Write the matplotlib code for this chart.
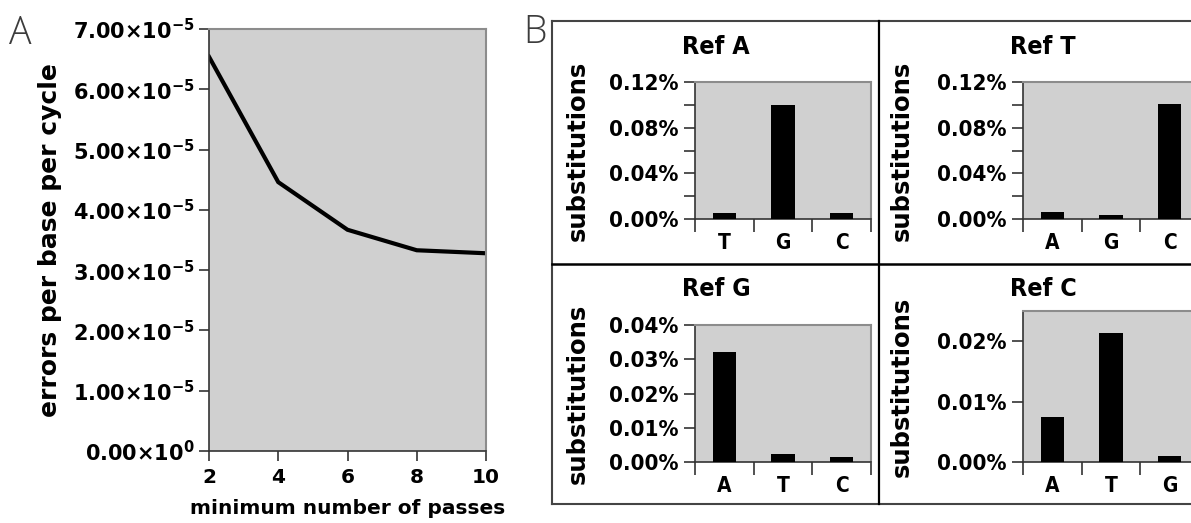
import numpy as np
import matplotlib.pyplot as plt
from matplotlib.ticker import FixedLocator, FuncFormatter
from matplotlib.lines import Line2D
from matplotlib import font_manager as fm

# ----------------------------------------------------------------
#  DATA
# ----------------------------------------------------------------
passes = [2, 4, 6, 8, 10]
errors = [6.54e-5, 4.46e-5, 3.67e-5, 3.33e-5, 3.28e-5]

titles = ['Ref A', 'Ref T', 'Ref G', 'Ref C']
bases_A = ['T', 'G', 'C']
bases_T = ['A', 'G', 'C']
bases_G = ['A', 'T', 'C']
bases_C = ['A', 'T', 'G']
subs_A = [0.0055, 0.0995, 0.0055]     # percent
subs_T = [0.0064, 0.0035, 0.1005]
subs_G = [0.0320, 0.0023, 0.0015]
subs_C = [0.0074, 0.0213, 0.0010]
ymax = [0.12, 0.12, 0.04, 0.025]
yticks_major = [[0, 0.04, 0.08, 0.12], [0, 0.04, 0.08, 0.12],
                [0, 0.01, 0.02, 0.03, 0.04], [0, 0.01, 0.02]]
yticks_minor = [[0.02, 0.06, 0.10], [0.02, 0.06, 0.10], [], []]

# ----------------------------------------------------------------
#  STYLE
# ----------------------------------------------------------------
W, H = 1191, 523
BG = '#d0d0d0'
plt.rcParams['font.family'] = 'DejaVu Sans'
plt.rcParams['font.weight'] = 'bold'
plt.rcParams['mathtext.default'] = 'bf'

# panel B text looks like a condensed bold face
cond = fm.FontProperties(family='DejaVu Sans', weight='bold', stretch='condensed')

fig = plt.figure(figsize=(W / 100, H / 100), dpi=100)


def px_axes(left, top, right, bottom):
    return fig.add_axes([left / W, 1 - bottom / H, (right - left) / W, (bottom - top) / H])


def style_spines(ax):
    ax.set_facecolor(BG)
    for s in ('left', 'bottom'):
        ax.spines[s].set_color('#333333')
        ax.spines[s].set_linewidth(1.2)
    for s in ('top', 'right'):
        ax.spines[s].set_color('#8c8c8c')
        ax.spines[s].set_linewidth(1.5)


# ----------------------------------------------------------------
#  PANEL A
# ----------------------------------------------------------------
axA = px_axes(209, 29, 486, 451)
style_spines(axA)
axA.plot(passes, errors, color='black', lw=3, solid_joinstyle='miter')
axA.set_xlim(2, 10)
axA.set_ylim(0, 7e-5)
axA.set_xticks(passes)
axA.set_yticks(np.arange(0, 7.01e-5, 1e-5))


def sci(v, pos):
    if v == 0:
        return r'$0.00{\times}10^{0}$'
    e = int(np.floor(np.log10(abs(v))))
    return r'$%.2f{\times}10^{%d}$' % (v / 10 ** e, e)


axA.yaxis.set_major_formatter(FuncFormatter(sci))
axA.tick_params(axis='both', direction='out', length=7, width=1.2, color='#333333')
axA.tick_params(axis='y', labelsize=15, pad=3)
axA.tick_params(axis='x', labelsize=14.5, pad=5)
axA.set_xlabel('minimum number of passes', fontsize=14.5, fontweight='bold', labelpad=9)
axA.set_ylabel('errors per base per cycle', fontsize=18, fontweight='bold', labelpad=8)

# ----------------------------------------------------------------
#  PANEL B
# ----------------------------------------------------------------
boxes = [(695, 82, 871, 219), (1023, 82, 1199, 219),
         (695, 325, 871, 462), (1023, 311, 1199, 462)]
title_base = [54, 54, 296, 296]
title_cx = [716, 1043, 716, 1043]     # titles centred on the grid cell
label_x = [-0.60, -0.62, -0.60, -0.62]
all_bases = [bases_A, bases_T, bases_G, bases_C]
all_subs = [subs_A, subs_T, subs_G, subs_C]

for i in range(4):
    ax = px_axes(*boxes[i])
    style_spines(ax)
    x = np.arange(len(all_bases[i]))
    ax.bar(x, all_subs[i], width=0.4, color='black', zorder=3)
    ax.set_xlim(-0.5, 2.5)
    ax.set_ylim(0, ymax[i])
    ax.set_xticks(x)
    ax.set_xticklabels(all_bases[i], fontproperties=cond, fontsize=15)
    ax.xaxis.set_minor_locator(FixedLocator([-0.5, 0.5, 1.5, 2.5]))
    ax.tick_params(axis='x', which='major', length=0, pad=10)
    ax.tick_params(axis='x', which='minor', length=9, width=1.2, color='#333333', direction='out')
    ax.set_yticks(yticks_major[i])
    ax.set_yticks(yticks_minor[i], minor=True)
    ax.set_yticklabels(['%.2f%%' % v for v in yticks_major[i]], fontproperties=cond, fontsize=16)
    ax.tick_params(axis='y', which='both', length=8, width=1.2, color='#333333',
                   direction='out', pad=4)
    left, top, right, _ = boxes[i]
    ax.set_title(titles[i], fontproperties=cond, fontsize=18,
                 x=(title_cx[i] - left) / (right - left), ha='center',
                 pad=(top - title_base[i]) * 0.72)
    ax.set_ylabel('substitutions', fontsize=17.5, fontweight='bold')
    ax.yaxis.set_label_coords(label_x[i], 0.5)

# frame around panel B
frame = dict(transform=fig.transFigure)
fig.add_artist(Line2D([552 / W, 1], [1 - 21 / H] * 2, color='#444444', lw=1.5, **frame))
fig.add_artist(Line2D([552 / W, 1], [1 - 504 / H] * 2, color='#444444', lw=1.5, **frame))
fig.add_artist(Line2D([552 / W] * 2, [1 - 21 / H, 1 - 504 / H], color='#444444', lw=1.5, **frame))
fig.add_artist(Line2D([879 / W] * 2, [1 - 21 / H, 1 - 504 / H], color='black', lw=1.6, **frame))
fig.add_artist(Line2D([552 / W, 1], [1 - 264 / H] * 2, color='black', lw=1.8, **frame))

# panel letters
fig.text(9 / W, 1 - 44 / H, 'A', fontsize=27, fontweight='light', family='Open Sans',
         color='#3c3c3c', ha='left', va='baseline')
fig.text(523 / W, 1 - 43 / H, 'B', fontsize=27, fontweight='light', family='Open Sans',
         color='#3c3c3c', ha='left', va='baseline')

fig.savefig('out.png', dpi=100)
